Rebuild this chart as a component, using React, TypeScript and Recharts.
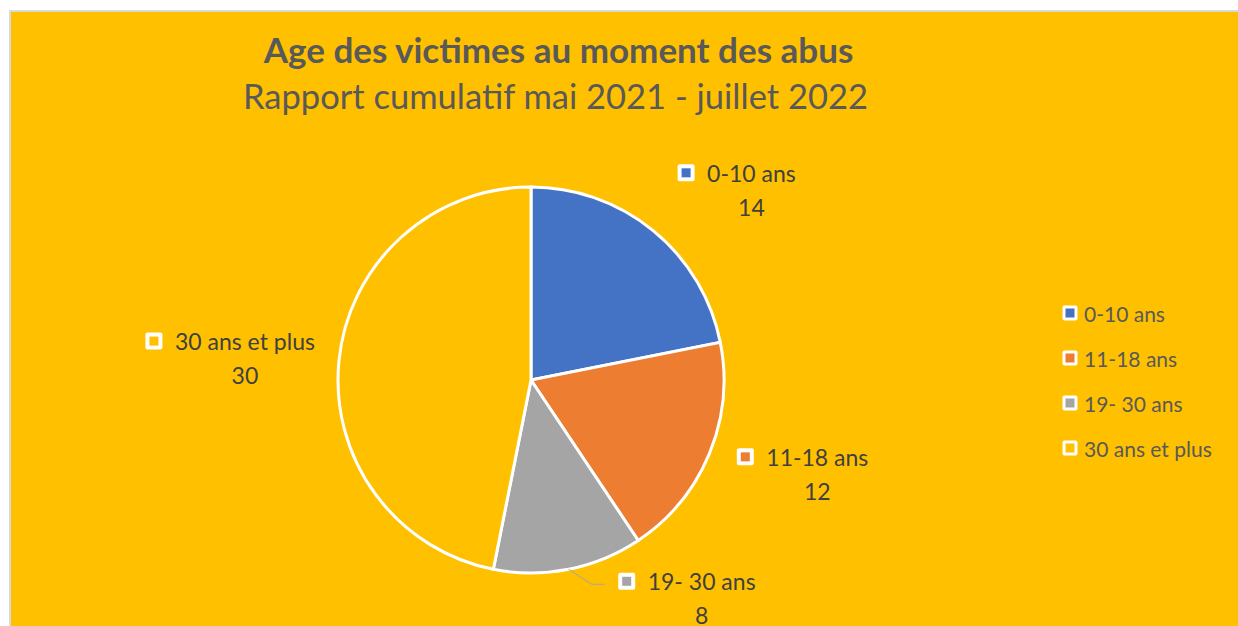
import React from 'react';
import { PieChart, Pie, Cell, Legend } from 'recharts';

// Âge des victimes - rapport cumulatif mai 2021 - juillet 2022
const CATEGORIES = ['0-10 ans', '11-18 ans', '19- 30 ans', '30 ans et plus'];
const VALUES = [14, 12, 8, 30];
const COLORS = ['#4472C4', '#ED7D31', '#A5A5A5', '#FFC000'];

const TITLE = 'Age des victimes au moment des abus';
const SUBTITLE = 'Rapport cumulatif mai 2021 - juillet 2022';

const data = CATEGORIES.map((name, i) => ({ name, value: VALUES[i] }));

const FONT = 'Lato, "Open Sans", sans-serif';
const LABEL_SIZE = 23;
const LEGEND_SIZE = 21;
const RAD = Math.PI / 180;

// where each data label sits, relative to the slice's outer edge
const LABEL_SHIFT = [
  [98, -58],
  [108, 3],
  [133, 12],
  [-94, -20],
];

let ctx: CanvasRenderingContext2D | null = null;
function textWidth(s: string, size: number) {
  if (!ctx) ctx = document.createElement('canvas').getContext('2d');
  if (!ctx) return s.length * size * 0.5;
  ctx.font = `${size}px Lato`;
  return ctx.measureText(s).width;
}

function KeyBox({ x, y, color, size = 17, edge = 4 }: any) {
  return (
    <g>
      <rect x={x - size / 2} y={y - size / 2} width={size} height={size} fill="#FFFFFF" rx={2} />
      <rect x={x - size / 2 + edge} y={y - size / 2 + edge} width={size - 2 * edge} height={size - 2 * edge} fill={color} />
    </g>
  );
}

function renderLabel(props: any) {
  const { cx, cy, midAngle, outerRadius, index, name, value } = props;
  const ex = cx + outerRadius * Math.cos(-midAngle * RAD);
  const ey = cy + outerRadius * Math.sin(-midAngle * RAD);
  const [dx, dy] = LABEL_SHIFT[index];
  const tx = ex + dx;
  const ty = ey + dy;
  const w = textWidth(name, LABEL_SIZE);
  const left = tx - w / 2;
  const boxX = left - 21;
  return (
    <g>
      {index === 2 && (
        <polyline
          points={`${ex},${ey} ${ex + 23},${ty + 3} ${boxX - 22},${ty + 3}`}
          fill="none"
          stroke="#A5A5A5"
          strokeWidth={1}
        />
      )}
      <KeyBox x={boxX} y={ty} color={COLORS[index]} />
      <text x={left} y={ty} fill="#404040" fontSize={LABEL_SIZE} fontFamily={FONT} dominantBaseline="central">
        {name}
      </text>
      <text x={tx} y={ty + 34} fill="#404040" fontSize={LABEL_SIZE} fontFamily={FONT} textAnchor="middle" dominantBaseline="central">
        {value}
      </text>
    </g>
  );
}

function renderLegend() {
  return (
    <svg width={180} height={190} style={{ overflow: 'visible' }}>
      {CATEGORIES.map((c, i) => (
        <g key={c}>
          <KeyBox x={8} y={13 + i * 45} color={COLORS[i]} size={15} edge={3} />
          <text x={22} y={13 + i * 45} fill="#595959" fontSize={LEGEND_SIZE} fontFamily={FONT} dominantBaseline="central">
            {c}
          </text>
        </g>
      ))}
    </svg>
  );
}

export default function App() {
  return (
    <div style={{ position: 'fixed', left: 0, top: 0, width: 1238, height: 626, background: '#FFFFFF', overflow: 'hidden' }}>
      <div
        style={{
          position: 'absolute',
          left: 9,
          top: 10,
          width: 1229,
          height: 616,
          boxSizing: 'border-box',
          background: '#FFC000',
          borderTop: '2px solid #D9D9D9',
          borderLeft: '2px solid #D9D9D9',
        }}
      />
      <div style={{ position: 'absolute', left: 0, width: 1117, top: 29, textAlign: 'center', fontFamily: FONT, fontWeight: 700, fontSize: 35, color: '#595959', lineHeight: '40px' }}>
        {TITLE}
      </div>
      <div style={{ position: 'absolute', left: 0, width: 1111, top: 76, textAlign: 'center', fontFamily: FONT, fontSize: 34.5, color: '#595959', lineHeight: '40px' }}>
        {SUBTITLE}
      </div>
      <div style={{ position: 'absolute', left: 0, top: 0 }}>
        <PieChart width={1238} height={626}>
          <Pie
            data={data}
            dataKey="value"
            nameKey="name"
            cx={526}
            cy={375}
            outerRadius={193}
            startAngle={90}
            endAngle={-270}
            stroke="#FFFFFF"
            strokeWidth={3}
            label={renderLabel}
            labelLine={false}
            isAnimationActive={false}
          >
            {data.map((d, i) => (
              <Cell key={d.name} fill={COLORS[i]} />
            ))}
          </Pie>
          <Legend
            layout="vertical"
            verticalAlign="top"
            align="right"
            content={renderLegend}
            wrapperStyle={{ left: 1062, top: 300, right: 'auto', width: 180 }}
          />
        </PieChart>
      </div>
    </div>
  );
}
